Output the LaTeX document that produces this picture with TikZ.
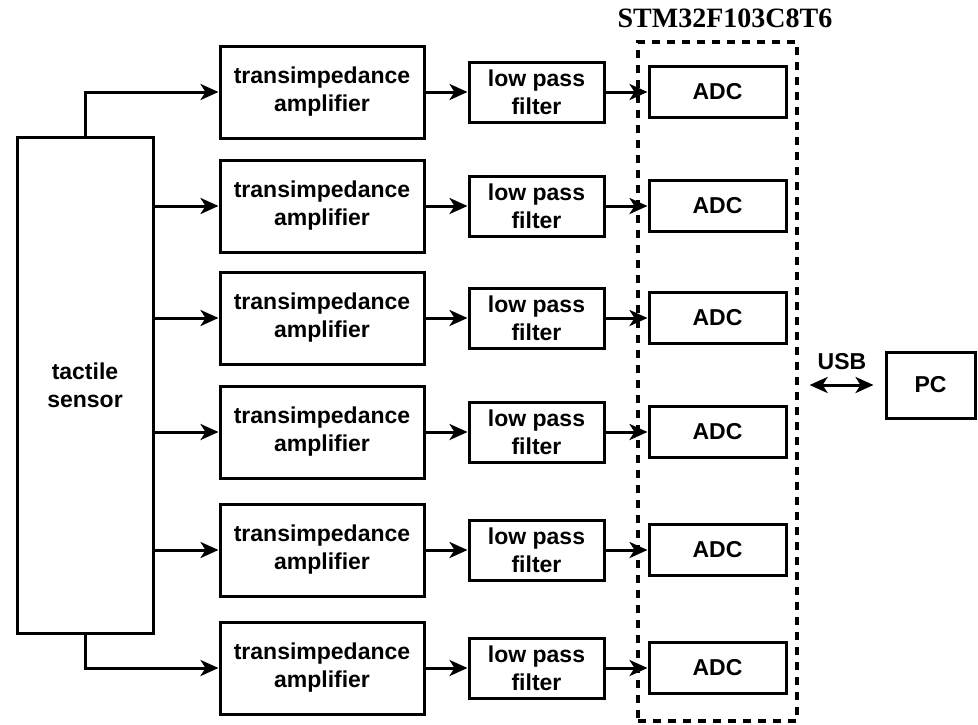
\documentclass[tikz,border=0pt]{standalone}
\usepackage{fontspec}
\setmainfont{Liberation Sans}
\newfontfamily\chipfont{Liberation Serif}
\usetikzlibrary{arrows.meta}
\tikzset{
  blk/.style={draw, line width=1.5pt, align=center, inner sep=0pt,
    font=\fontsize{11.5}{14}\selectfont\bfseries},
  tia/.style={blk, minimum width=102pt, minimum height=46pt},
  lpf/.style={blk, minimum width=67.5pt, minimum height=30pt},
  adc/.style={blk, minimum width=68.5pt, minimum height=25.5pt},
  sig/.style={line width=1.5pt, -{Stealth[length=9pt,width=8pt,inset=2.5pt]}},
}
\begin{document}
\begin{tikzpicture}[x=0.5pt,y=-0.5pt]
\useasboundingbox (0,0) rectangle (978,724);
% microcontroller outline
\node[draw, dash pattern=on 4pt off 3.5pt, line width=1.6pt,
  minimum width=79.5pt, minimum height=339.5pt] (mcu) at (717.5,381.5) {};
\node[font=\chipfont\fontsize{14}{16}\selectfont\bfseries] (chip) at (725,18) {STM32F103C8T6};
\node[blk, minimum width=68pt, minimum height=248pt] (sensor) at (85,385) {tactile\\sensor};
%
\foreach \i/\y in {1/92,2/206,3/318,4/432,5/550,6/668} {
  \node[tia] (tia\i) at (322,\y) {transimpedance\\amplifier};
  \node[lpf] (lpf\i) at (536.5,\y) {low pass\\filter};
  \node[adc] (adc\i) at (717.5,\y) {ADC};
  \draw[sig] (tia\i) -- (lpf\i);
  \draw[sig] (lpf\i) -- (adc\i);
}
%
\draw[sig] (sensor.north) -- (sensor.north |- tia1.west) -- (tia1.west);
\foreach \i in {2,3,4,5}
  \draw[sig] (sensor.east |- tia\i.west) -- (tia\i.west);
\draw[sig] (sensor.south) -- (sensor.south |- tia6.west) -- (tia6.west);
% link to the computer
\node[blk, minimum width=44.5pt, minimum height=33pt] (pc) at (930.5,385) {PC};
\node[font=\fontsize{11.5}{14}\selectfont\bfseries] (usb) at (842,362) {USB};
\coordinate (usbl) at ([xshift=5.5pt]mcu.east);
\draw[line width=1.5pt, {Stealth[length=9pt,width=8pt,inset=2.5pt]}-{Stealth[length=9pt,width=8pt,inset=2.5pt]}]
  (usbl |- pc.west) -- ([xshift=-5.5pt]pc.west);
\end{tikzpicture}
\end{document}
